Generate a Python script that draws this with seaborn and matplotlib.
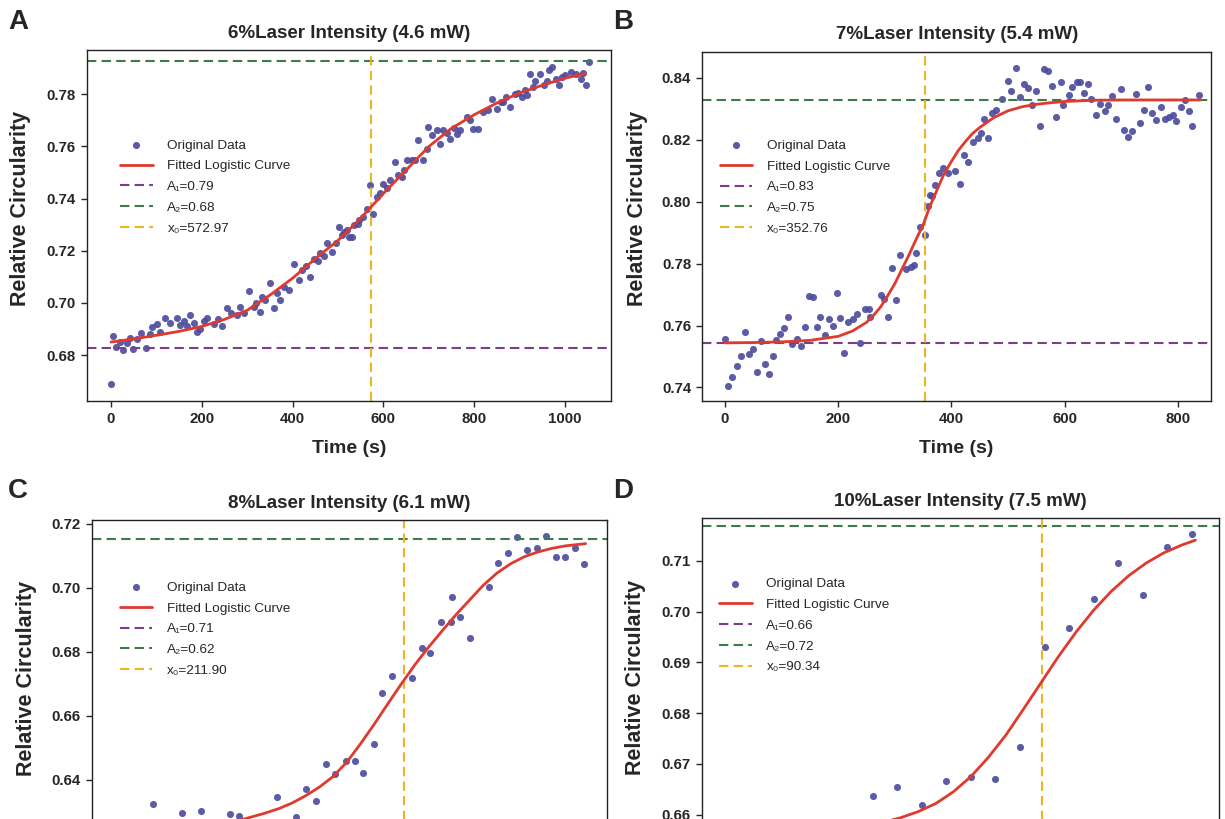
import numpy as np
import pandas as pd
import seaborn as sns
import matplotlib
matplotlib.use('Agg')
import matplotlib.pyplot as plt

sns.set_style('ticks')
plt.rcParams['font.family'] = ['Liberation Sans', 'DejaVu Sans']

# ---- panel A : 6% laser (4.6 mW)
a_time = [0, 5, 12, 20, 27, 35, 41, 49, 58, 67, 78, 85, 90, 101, 108, 119, 130, 145, 152, 160,
          167, 174, 182, 189, 197, 205, 211, 226, 235, 244, 255, 265, 277, 285, 292, 303, 314, 320,
          329, 333, 340, 351, 358, 365, 373, 380, 391, 402, 413, 421, 430, 439, 446, 455, 461, 470,
          476, 487, 495, 502, 508, 513, 519, 524, 530, 535, 543, 545, 555, 563, 570, 578, 585, 592,
          600, 607, 614, 625, 632, 640, 645, 651, 662, 670, 677, 688, 695, 699, 706, 717, 725, 732,
          740, 747, 755, 761, 769, 783, 790, 798, 809, 820, 830, 839, 850, 858, 864, 870, 879, 890,
          897, 905, 912, 916, 923, 930, 934, 945, 953, 960, 964, 971, 980, 986, 993, 1000, 1012,
          1023, 1034, 1040, 1045, 1052]
a_circ = [0.6688, 0.6873, 0.6832, 0.6850, 0.6819, 0.6845, 0.6864, 0.6824, 0.6860, 0.6883, 0.6828,
          0.6880, 0.6908, 0.6919, 0.6889, 0.6941, 0.6925, 0.6941, 0.6915, 0.6930, 0.6911, 0.6953,
          0.6925, 0.6889, 0.6899, 0.6930, 0.6941, 0.6921, 0.6940, 0.6911, 0.6979, 0.6960, 0.6953,
          0.6985, 0.6960, 0.7046, 0.6985, 0.7000, 0.6966, 0.7023, 0.7010, 0.7075, 0.6979, 0.7040,
          0.7011, 0.7060, 0.7049, 0.7151, 0.7087, 0.7126, 0.7140, 0.7100, 0.7170, 0.7160, 0.7190,
          0.7180, 0.7228, 0.7196, 0.7230, 0.7291, 0.7262, 0.7272, 0.7279, 0.7253, 0.7253, 0.7300,
          0.7304, 0.7317, 0.7330, 0.7362, 0.7451, 0.7343, 0.7406, 0.7420, 0.7458, 0.7440, 0.7470,
          0.7540, 0.7490, 0.7483, 0.7510, 0.7547, 0.7549, 0.7550, 0.7623, 0.7547, 0.7590, 0.7674,
          0.7643, 0.7662, 0.7611, 0.7662, 0.7650, 0.7630, 0.7670, 0.7649, 0.7662, 0.7713, 0.7700,
          0.7668, 0.7668, 0.7732, 0.7740, 0.7783, 0.7745, 0.7770, 0.7770, 0.7790, 0.7751, 0.7802,
          0.7805, 0.7789, 0.7815, 0.7796, 0.7879, 0.7830, 0.7853, 0.7879, 0.7834, 0.7850, 0.7892,
          0.7904, 0.7860, 0.7834, 0.7866, 0.7875, 0.7885, 0.7879, 0.7860, 0.7880, 0.7834, 0.7923]
a_fit_time = [0, 50, 100, 150, 200, 250, 300, 350, 400, 450, 500, 550, 600, 650, 700, 750, 800,
              850, 900, 950, 1000, 1045]
a_fit_circ = [0.6850, 0.6862, 0.6876, 0.6891, 0.6910, 0.6937, 0.6972, 0.7030, 0.7095, 0.7170,
              0.7240, 0.7325, 0.7420, 0.7510, 0.7600, 0.7670, 0.7722, 0.7767, 0.7805, 0.7835,
              0.7862, 0.7880]

# ---- panel B : 7% laser (5.4 mW)
b_time = [0, 6, 13, 21, 28, 35, 42, 49, 56, 63, 70, 77, 84, 91, 98, 105, 112, 118, 127, 135,
          141, 148, 155, 162, 168, 177, 183, 190, 198, 204, 211, 218, 226, 233, 239, 247, 254,
          257, 275, 281, 288, 295, 303, 310, 319, 328, 334, 338, 345, 353, 358, 362, 366, 371,
          378, 386, 394, 407, 415, 423, 429, 439, 447, 453, 458, 464, 472, 479, 490, 500, 506,
          514, 522, 528, 535, 542, 550, 557, 563, 571, 578, 585, 593, 598, 607, 613, 622, 628,
          634, 642, 647, 656, 662, 671, 677, 684, 691, 699, 705, 712, 720, 727, 734, 741, 748,
          755, 762, 770, 777, 784, 791, 797, 805, 813, 819, 826, 837]
b_circ = [0.7557, 0.7406, 0.7433, 0.7468, 0.7501, 0.7578, 0.7509, 0.7525, 0.7449, 0.7549, 0.7476,
          0.7442, 0.7501, 0.7552, 0.7573, 0.7593, 0.7629, 0.7539, 0.7555, 0.7535, 0.7595, 0.7697,
          0.7691, 0.7595, 0.7627, 0.7568, 0.7622, 0.7597, 0.7706, 0.7624, 0.7512, 0.7611, 0.7622,
          0.7636, 0.7544, 0.7654, 0.7654, 0.7629, 0.7700, 0.7686, 0.7629, 0.7786, 0.7684, 0.7828,
          0.7783, 0.7788, 0.7794, 0.7834, 0.7918, 0.7891, 0.7985, 0.8022, 0.8020, 0.8054, 0.8094,
          0.8110, 0.8092, 0.8099, 0.8059, 0.8151, 0.8129, 0.8194, 0.8205, 0.8221, 0.8267, 0.8205,
          0.8286, 0.8296, 0.8332, 0.8391, 0.8358, 0.8433, 0.8339, 0.8379, 0.8368, 0.8312, 0.8358,
          0.8245, 0.8429, 0.8422, 0.8375, 0.8275, 0.8388, 0.8312, 0.8345, 0.8371, 0.8386, 0.8386,
          0.8353, 0.8382, 0.8332, 0.8282, 0.8315, 0.8294, 0.8312, 0.8342, 0.8269, 0.8366, 0.8232,
          0.8210, 0.8228, 0.8347, 0.8253, 0.8296, 0.8370, 0.8287, 0.8264, 0.8307, 0.8267, 0.8275,
          0.8280, 0.8261, 0.8307, 0.8328, 0.8293, 0.8245, 0.8345]
b_fit_time = [0, 50, 100, 150, 200, 225, 250, 262, 275, 287, 300, 312, 325, 337, 350, 362, 375,
              387, 400, 412, 425, 437, 450, 475, 500, 525, 550, 575, 600, 650, 700, 750, 800, 840]
b_fit_circ = [0.7544, 0.7545, 0.7547, 0.7552, 0.7565, 0.7582, 0.7610, 0.7632, 0.7660, 0.7695,
              0.7735, 0.7780, 0.7828, 0.7876, 0.7925, 0.7985, 0.8040, 0.8090, 0.8130, 0.8165,
              0.8195, 0.8220, 0.8240, 0.8272, 0.8294, 0.8307, 0.8315, 0.8320, 0.8324, 0.8328,
              0.8329, 0.8329, 0.8329, 0.8329]

# ---- panel C : 8% laser (6.1 mW)
c_time = [28, 49, 63, 84, 91, 119, 133, 140, 147, 155, 161, 169, 176, 182, 190, 196, 203, 218,
          225, 231, 239, 246, 247, 253, 260, 274, 281, 288, 295, 302, 309, 316, 323, 330, 337, 344]
c_circ = [0.6325, 0.6294, 0.6302, 0.6291, 0.6286, 0.6346, 0.6284, 0.6369, 0.6333, 0.6448, 0.6417,
          0.6459, 0.6459, 0.6419, 0.6510, 0.6672, 0.6725, 0.6719, 0.6813, 0.6795, 0.6892, 0.6892,
          0.6972, 0.6910, 0.6842, 0.7003, 0.7077, 0.7110, 0.7158, 0.7118, 0.7124, 0.7163, 0.7097,
          0.7097, 0.7124, 0.7074]
c_fit_time = [0, 40, 80, 90, 100, 110, 120, 130, 140, 150, 160, 170, 180, 190, 200, 210, 220,
              230, 240, 250, 260, 270, 280, 290, 300, 310, 320, 330, 345]
c_fit_circ = [0.6215, 0.6228, 0.6262, 0.6271, 0.6283, 0.6295, 0.6309, 0.6327, 0.6350, 0.6377,
              0.6410, 0.6455, 0.6512, 0.6573, 0.6637, 0.6700, 0.6760, 0.6815, 0.6866, 0.6916,
              0.6962, 0.7008, 0.7046, 0.7075, 0.7097, 0.7112, 0.7123, 0.7131, 0.7138]

# ---- panel D : 10% laser (7.5 mW)
d_time = [42, 49, 56, 63, 70, 77, 84, 91, 98, 105, 112, 119, 126, 133]
d_circ = [0.6637, 0.6654, 0.6619, 0.6666, 0.6675, 0.6670, 0.6733, 0.6931, 0.6967, 0.7024, 0.7095,
          0.7032, 0.7128, 0.7153]
d_fit_time = [40, 45, 50, 55, 60, 65, 70, 75, 80, 85, 90, 95, 100, 105, 110, 115, 120, 125, 130, 134]
d_fit_circ = [0.6578, 0.6585, 0.6594, 0.6606, 0.6622, 0.6645, 0.6675, 0.6713, 0.6757, 0.6808,
              0.6860, 0.6912, 0.6960, 0.7003, 0.7040, 0.7071, 0.7096, 0.7116, 0.7131, 0.7141]

titles = ['6%Laser Intensity (4.6 mW)', '7%Laser Intensity (5.4 mW)',
          '8%Laser Intensity (6.1 mW)', '10%Laser Intensity (7.5 mW)']
# levels of the two dashed horizontals (lower, upper) and the midpoint x0
lower_lines = [0.6828, 0.7543, 0.6205, 0.6550]
upper_lines = [0.7927, 0.8329, 0.7153, 0.7169]
x0_values = [572.97, 352.76, 211.90, 90.34]
a1_text = ['0.79', '0.83', '0.71', '0.66']
a2_text = ['0.68', '0.75', '0.62', '0.72']
x0_text = ['572.97', '352.76', '211.90', '90.34']
y_ticks = [[0.68, 0.70, 0.72, 0.74, 0.76, 0.78],
           [0.74, 0.76, 0.78, 0.80, 0.82, 0.84],
           [0.64, 0.66, 0.68, 0.70, 0.72],
           [0.66, 0.67, 0.68, 0.69, 0.70, 0.71]]
x_ticks = [[0, 200, 400, 600, 800, 1000],
           [0, 200, 400, 600, 800]]

DOT = '#4a4a9c'
RED = '#e0392e'
PURPLE = '#7d3c8c'
GREEN = '#3f7a4a'
GOLD = '#efb324'
DASH = (0, (4.5, 2.5))

W, H = 1225, 819
fig = plt.figure(figsize=(W / 100, H / 100), dpi=100)


def add_axes_px(left, top, right, bottom):
    return fig.add_axes([left / W, 1 - bottom / H, (right - left) / W, (bottom - top) / H])


def draw_panel(ax, i, t, rc, fit_t, fit_rc, xlim, ylim, leg_xy):
    sns.scatterplot(x=t, y=rc, ax=ax, color=DOT, s=26, linewidth=0, alpha=0.9,
                    label='Original Data', zorder=2)
    sns.lineplot(x=fit_t, y=fit_rc, ax=ax, color=RED, lw=2, label='Fitted Logistic Curve', zorder=3)
    ax.axhline(lower_lines[i], color=PURPLE, ls=DASH, lw=1.5, label='A\u2081=' + a1_text[i])
    ax.axhline(upper_lines[i], color=GREEN, ls=DASH, lw=1.5, label='A\u2082=' + a2_text[i])
    ax.axvline(x0_values[i], color=GOLD, ls=DASH, lw=1.5, label='x\u2080=' + x0_text[i])

    ax.set_xlim(xlim)
    ax.set_ylim(ylim)
    ax.set_yticks(y_ticks[i])
    ax.set_yticklabels(['%.2f' % v for v in y_ticks[i]])
    ax.tick_params(labelsize=10.8, length=4, width=1, pad=4)
    # bottom row is cut by the picture edge: its x axis texts fall outside
    if i < 2:
        ax.set_xticks(x_ticks[i])
        ax.set_xlabel('Time (s)', fontsize=14, fontweight='bold', labelpad=10)
    else:
        ax.set_xticklabels([])
        ax.set_xlabel('')
    for lbl in ax.get_xticklabels() + ax.get_yticklabels():
        lbl.set_fontweight('bold')
    for sp in ax.spines.values():
        sp.set_visible(True)
        sp.set_linewidth(1.0)
        sp.set_color('#222222')

    ax.set_title(titles[i], fontsize=13.5, fontweight='bold', pad=9)
    ax.set_ylabel('Relative Circularity', fontsize=15.5, fontweight='bold')
    ax.yaxis.set_label_coords(-0.107, 0.55)

    ax.legend(loc='center left', bbox_to_anchor=leg_xy, frameon=False, fontsize=9.7,
              handlelength=2.4, handletextpad=1.1, labelspacing=0.62,
              borderpad=0, borderaxespad=0)


ax_a = add_axes_px(86.7, 50, 611, 401)
ax_b = add_axes_px(702.3, 51.7, 1211, 400.7)
ax_c = add_axes_px(91.7, 520, 607.3, 871)
ax_d = add_axes_px(701.7, 518.3, 1219.3, 871)

draw_panel(ax_a, 0, a_time, a_circ, a_fit_time, a_fit_circ, (-53.5, 1101), (0.6624, 0.7970), (0.064, 0.61))
draw_panel(ax_b, 1, b_time, b_circ, b_fit_time, b_fit_circ, (-40.1, 858.7), (0.7357, 0.8485), (0.035, 0.612))
draw_panel(ax_c, 2, c_time, c_circ, c_fit_time, c_fit_circ, (-17.1, 360.9), (0.6114, 0.7212), (0.055, 0.689))
draw_panel(ax_d, 3, d_time, d_circ, d_fit_time, d_fit_circ, (-6.7, 140.8), (0.6489, 0.7184), (0.034, 0.696))

for letter, (lx, ly) in zip('ABCD', [(8, 22), (613, 22), (8, 491), (613, 491)]):
    fig.text(lx / W, 1 - ly / H, letter, fontsize=20, fontweight='bold', ha='left', va='center')

fig.savefig('out.png', dpi=100)
